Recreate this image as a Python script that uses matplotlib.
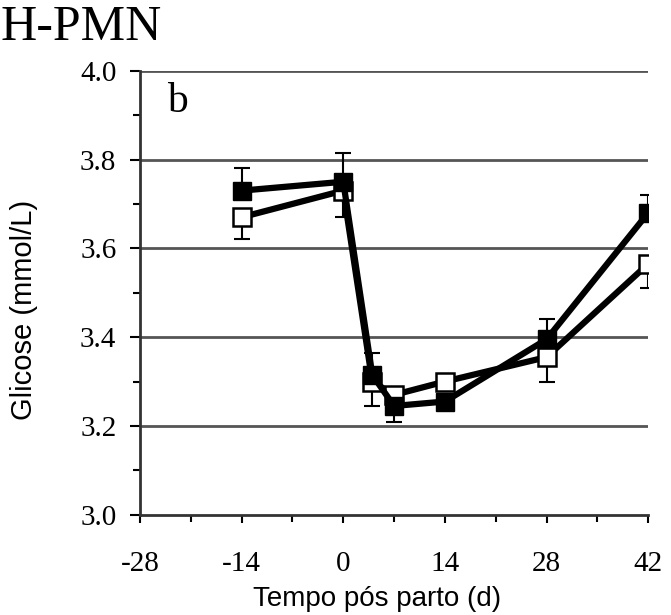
import numpy as np
import matplotlib.pyplot as plt

days = [-14, 0, 4, 7, 14, 28, 42]
filled = [3.73, 3.75, 3.315, 3.245, 3.255, 3.395, 3.68]
filled_lo = [0, 0, 0, 0.035, 0, 0, 0]
filled_hi = [0.05, 0.065, 0.05, 0, 0, 0.045, 0.04]
opened = [3.67, 3.73, 3.30, 3.27, 3.30, 3.355, 3.565]
opened_lo = [0.048, 0.06, 0.055, 0, 0, 0.055, 0.055]
opened_hi = [0, 0, 0, 0.01, 0, 0, 0]

x_ticks = [-28, -14, 0, 14, 28, 42]
y_ticks = [3.0, 3.2, 3.4, 3.6, 3.8, 4.0]

serif = 'Liberation Serif'
sans = 'Liberation Sans'

fig = plt.figure(figsize=(6.71, 6.15), dpi=100)
ax = fig.add_axes([0.2086, 0.163, 0.7574, 0.722])

for yv in y_ticks[1:]:
    ax.axhline(yv, color='#555555', lw=2, zorder=1)

ax.errorbar(days, opened, yerr=[opened_lo, opened_hi], fmt='none', ecolor='black',
            elinewidth=1.5, capsize=6, capthick=1.5, zorder=2)
ax.errorbar(days, filled, yerr=[filled_lo, filled_hi], fmt='none', ecolor='black',
            elinewidth=1.5, capsize=6, capthick=1.5, zorder=2)
ax.plot(days, opened, color='black', lw=4.5, marker='s', ms=13,
        mfc='white', mec='black', mew=1.8, zorder=3)
ax.plot(days, filled, color='black', lw=4.5, marker='s', ms=13,
        mfc='black', mec='black', zorder=4)

ax.set_xlim(-28, 42)
ax.set_ylim(3.0, 4.0)
ax.set_xticks(x_ticks)
ax.set_xticks(np.arange(-21, 42, 14), minor=True)
ax.set_yticks(y_ticks)
ax.set_yticks(np.arange(3.1, 4.0, 0.2), minor=True)
ax.set_xticklabels([str(v) for v in x_ticks], fontname=serif, fontsize=21)
ax.set_yticklabels(['%.1f' % v for v in y_ticks], fontname=serif, fontsize=21)
ax.tick_params(axis='x', which='major', direction='out', length=6, width=1.5, pad=20)
ax.tick_params(axis='y', which='major', direction='out', length=7, width=1.5, pad=10)
ax.tick_params(which='minor', direction='out', length=5, width=1.5)

for s in ['top', 'right']:
    ax.spines[s].set_visible(False)
for s in ['left', 'bottom']:
    ax.spines[s].set_linewidth(2)
    ax.spines[s].set_color('#333333')

ax.set_xlabel('Tempo pós parto (d)', fontname=sans, fontsize=20)
ax.xaxis.set_label_coords(0.467, -0.16)
ax.set_ylabel('Glicose (mmol/L)', fontname=sans, fontsize=21)
ax.yaxis.set_label_coords(-0.20, 0.462)

ax.text(0.073, 0.908, 'b', transform=ax.transAxes, fontname=serif, fontsize=30,
        ha='center', va='baseline')
fig.text(0.0, 0.955, 'H-PMN', fontname=serif, fontsize=36, ha='left', va='center')

fig.savefig('out.png', dpi=100)
